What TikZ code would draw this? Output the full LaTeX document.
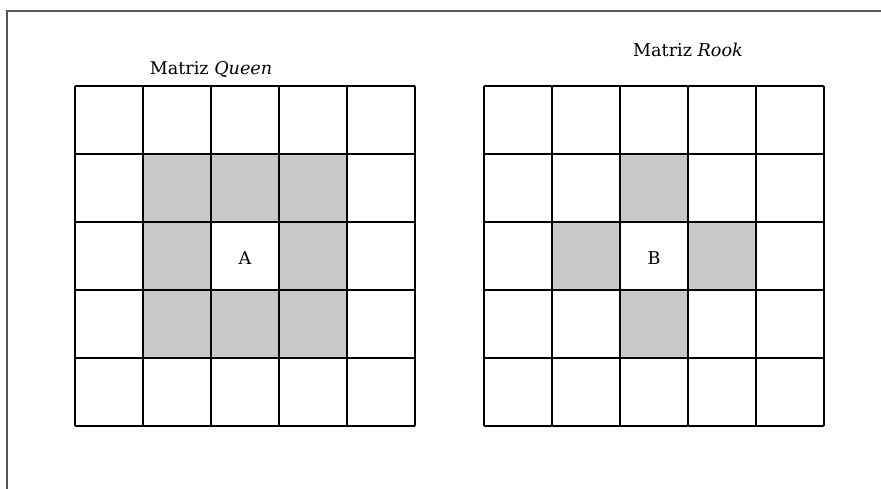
\documentclass[tikz,border=0pt]{standalone}
\usepackage{fontspec}
\setmainfont{DejaVu Serif}
\definecolor{shade}{HTML}{C8C8C8}
\definecolor{framec}{HTML}{555555}
\tikzset{
  gridline/.style={draw=black, line width=1.2pt},
  shaded/.style={fill=shade},
  framel/.style={draw=framec, line width=1.4pt},
  title/.style={font=\fontsize{17.6}{20}\selectfont, inner sep=0pt},
  celltext/.style={font=\fontsize{17.6}{20}\selectfont, inner sep=0pt}
}
\begin{document}
\begin{tikzpicture}[x=1pt,y=1pt]
\useasboundingbox (0,0) rectangle (881,488);
% frame
\draw[framel] (7,-5) -- (7,477) -- (890,477);
% Queen grid: x 75..415, y(top)=402 .. 62
\foreach \c/\r in {1/1,2/1,3/1,1/2,3/2,1/3,2/3,3/3}{
  \fill[shaded] (75+68*\c,402-68*\r) rectangle ++(68,-68);
}
\foreach \i in {0,...,5}{
  \draw[gridline] (75+68*\i,62) -- (75+68*\i,402);
  \draw[gridline] (75,62+68*\i) -- (415,62+68*\i);
}
\node[celltext] (A) at (245,230) {A};
\node[title] (tq) at (211,419) {Matriz \textit{Queen}};
% Rook grid: x 484..824
\foreach \c/\r in {2/1,1/2,3/2,2/3}{
  \fill[shaded] (484+68*\c,402-68*\r) rectangle ++(68,-68);
}
\foreach \i in {0,...,5}{
  \draw[gridline] (484+68*\i,62) -- (484+68*\i,402);
  \draw[gridline] (484,62+68*\i) -- (824,62+68*\i);
}
\node[celltext] (B) at (654,230) {B};
\node[title] (tr) at (688,438) {Matriz \textit{Rook}};
\end{tikzpicture}
\end{document}
